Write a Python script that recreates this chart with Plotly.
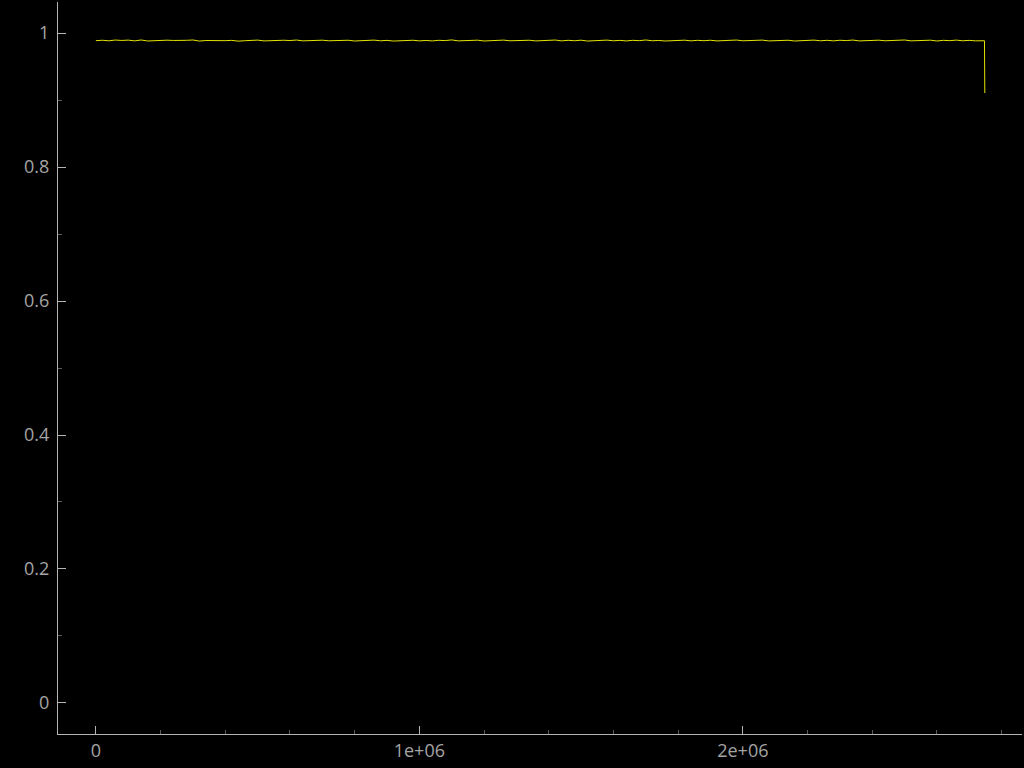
import plotly.graph_objects as go

# Sample positions (steps) and measured value
x_steps = [
    0, 20000, 40000, 60000, 80000, 100000, 120000, 140000, 160000, 180000,
    200000, 220000, 240000, 260000, 280000, 300000, 320000, 340000, 360000, 380000,
    400000, 420000, 440000, 460000, 480000, 500000, 520000, 540000, 560000, 580000,
    600000, 620000, 640000, 660000, 680000, 700000, 720000, 740000, 760000, 780000,
    800000, 820000, 840000, 860000, 880000, 900000, 920000, 940000, 960000, 980000,
    1000000, 1020000, 1040000, 1060000, 1080000, 1100000, 1120000, 1140000, 1160000, 1180000,
    1200000, 1220000, 1240000, 1260000, 1280000, 1300000, 1320000, 1340000, 1360000, 1380000,
    1400000, 1420000, 1440000, 1460000, 1480000, 1500000, 1520000, 1540000, 1560000, 1580000,
    1600000, 1620000, 1640000, 1660000, 1680000, 1700000, 1720000, 1740000, 1760000, 1780000,
    1800000, 1820000, 1840000, 1860000, 1880000, 1900000, 1920000, 1940000, 1960000, 1980000,
    2000000, 2020000, 2040000, 2060000, 2080000, 2100000, 2120000, 2140000, 2160000, 2180000,
    2200000, 2220000, 2240000, 2260000, 2280000, 2300000, 2320000, 2340000, 2360000, 2380000,
    2400000, 2420000, 2440000, 2460000, 2480000, 2500000, 2520000, 2540000, 2560000, 2580000,
    2600000, 2620000, 2640000, 2660000, 2680000, 2700000, 2720000, 2740000, 2747000, 2748000,
]
values = [
    0.9886, 0.9892, 0.9884, 0.9895, 0.9889, 0.9894, 0.9883, 0.9896, 0.9881, 0.9887,
    0.9884, 0.9893, 0.9889, 0.9886, 0.9891, 0.9896, 0.9880, 0.9888, 0.9885, 0.9893,
    0.9886, 0.9890, 0.9879, 0.9885, 0.9887, 0.9894, 0.9882, 0.9889, 0.9886, 0.9892,
    0.9888, 0.9895, 0.9883, 0.9890, 0.9887, 0.9893, 0.9884, 0.9889, 0.9885, 0.9892,
    0.9881, 0.9888, 0.9886, 0.9894, 0.9884, 0.9890, 0.9880, 0.9887, 0.9885, 0.9892,
    0.9883, 0.9889, 0.9882, 0.9891, 0.9887, 0.9897, 0.9883, 0.9888, 0.9885, 0.9893,
    0.9881, 0.9889, 0.9888, 0.9894, 0.9884, 0.9890, 0.9886, 0.9892, 0.9882, 0.9887,
    0.9886, 0.9895, 0.9883, 0.9891, 0.9885, 0.9893, 0.9880, 0.9888, 0.9887, 0.9894,
    0.9884, 0.9890, 0.9882, 0.9891, 0.9886, 0.9896, 0.9884, 0.9889, 0.9881, 0.9886,
    0.9887, 0.9893, 0.9883, 0.9891, 0.9885, 0.9892, 0.9882, 0.9888, 0.9887, 0.9895,
    0.9884, 0.9890, 0.9885, 0.9894, 0.9882, 0.9889, 0.9886, 0.9892, 0.9881, 0.9887,
    0.9886, 0.9894, 0.9884, 0.9891, 0.9883, 0.9892, 0.9887, 0.9895, 0.9882, 0.9888,
    0.9885, 0.9893, 0.9884, 0.9890, 0.9886, 0.9896, 0.9883, 0.9889, 0.9885, 0.9893,
    0.9881, 0.9891, 0.9886, 0.9894, 0.9884, 0.9890, 0.9883, 0.9889, 0.9885, 0.9104,
]

x_tickvals = [0, 1000000, 2000000]
x_ticktext = ["0", "1e+06", "2e+06"]
y_tickvals = [0, 0.2, 0.4, 0.6, 0.8, 1]
y_ticktext = ["0", "0.2", "0.4", "0.6", "0.8", "1"]

AXIS = "#b4b4b4"
LABEL = "#a4a4a4"
MINOR = "#5a5a5a"

fig = go.Figure()
fig.add_trace(go.Scatter(
    x=x_steps, y=values, mode="lines",
    line=dict(color="#e4e400", width=1),
    showlegend=False, hoverinfo="skip",
))

fig.update_layout(
    width=1024, height=768,
    paper_bgcolor="black", plot_bgcolor="black",
    margin=dict(l=58, r=2, t=2, b=34),
    font=dict(family="Open Sans", size=18, color=LABEL),
    showlegend=False,
    xaxis=dict(
        range=[-117000, 2863000],
        showgrid=False, zeroline=False,
        showline=True, linecolor=AXIS, linewidth=1,
        tickmode="array", tickvals=x_tickvals, ticktext=x_ticktext,
        ticks="inside", ticklen=8, tickcolor=AXIS, tickwidth=1,
        minor=dict(ticks="inside", ticklen=4, tickcolor=MINOR, dtick=200000, tick0=0, showgrid=False),
        tickfont=dict(color=LABEL, size=18),
    ),
    yaxis=dict(
        range=[-0.0463, 1.0463],
        showgrid=False, zeroline=False,
        showline=True, linecolor=AXIS, linewidth=1,
        tickmode="array", tickvals=y_tickvals, ticktext=y_ticktext,
        ticks="inside", ticklen=8, tickcolor=AXIS, tickwidth=1,
        ticklabelstandoff=4,
        minor=dict(ticks="inside", ticklen=4, tickcolor=MINOR, dtick=0.1, tick0=0, showgrid=False),
        tickfont=dict(color=LABEL, size=18),
    ),
)

fig.write_html(
    "out.html",
    config={"displayModeBar": False},
    post_script="document.body.style.margin='0';document.body.style.padding='0';",
)
